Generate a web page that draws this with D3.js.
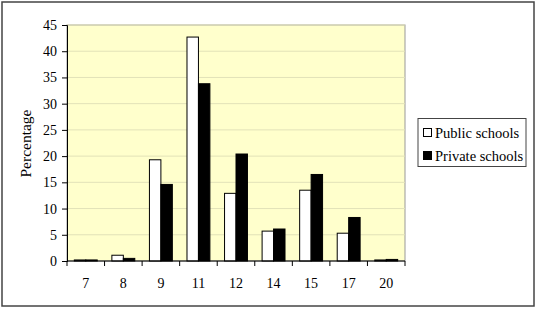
<!DOCTYPE html>
<html><head><meta charset="utf-8">
<script src="https://cdn.jsdelivr.net/npm/d3@7"></script>
<style>body{margin:0;background:#fff;}svg{display:block;}</style>
</head><body>
<svg id="c" width="538" height="311"></svg>
<script>
const categories = ["7","8","9","11","12","14","15","17","20"];
const publicSchools = [0.2, 1.1, 19.3, 42.7, 12.9, 5.7, 13.5, 5.3, 0.2];
const privateSchools = [0.2, 0.5, 14.6, 33.8, 20.4, 6.1, 16.5, 8.3, 0.3];
const seriesNames = ["Public schools", "Private schools"];
const yTicks = [0,5,10,15,20,25,30,35,40,45];

const svg = d3.select("#c");
const font = "'Liberation Serif','Times New Roman',serif";
svg.append("rect").attr("x",2).attr("y",2).attr("width",532).attr("height",304)
  .attr("fill","#fff").attr("stroke","#444").attr("stroke-width",1.5);

const L=67, R=405, T=25, B=261;
const x = d3.scaleBand().domain(categories).range([L,R]).paddingInner(0.39).paddingOuter(0.195);
const xs = d3.scaleBand().domain(seriesNames).range([0,x.bandwidth()]);
const y = d3.scaleLinear().domain([0,45]).range([B,T]);

svg.append("rect").attr("x",L).attr("y",T).attr("width",R-L).attr("height",B-T)
  .attr("fill","#FFFFCC").attr("stroke","#999").attr("stroke-width",1);

svg.append("g").selectAll("line").data(yTicks.slice(1)).join("line")
  .attr("x1",L).attr("x2",R).attr("y1",d=>y(d)).attr("y2",d=>y(d))
  .attr("stroke","#E2E2B8").attr("stroke-width",1);

const data = categories.map((c,i)=>({c, vals:[publicSchools[i], privateSchools[i]]}));
const g = svg.append("g");
data.forEach(d=>{
  d.vals.forEach((v,j)=>{
    g.append("rect").attr("x",x(d.c)+xs(seriesNames[j])).attr("y",y(v))
      .attr("width",xs.bandwidth()).attr("height",B-y(v))
      .attr("fill", j===0?"#fff":"#000").attr("stroke","#000").attr("stroke-width",1);
  });
});

const ya = d3.axisLeft(y).tickValues(yTicks).tickSize(5).tickPadding(5);
const yg = svg.append("g").attr("transform",`translate(${L},0)`).call(ya);
yg.select(".domain").attr("stroke","#000");
yg.selectAll("text").attr("font-family",font).attr("font-size",14).attr("fill","#000");

// x axis with ticks at band boundaries
const xg = svg.append("g");
xg.append("line").attr("x1",L).attr("x2",R).attr("y1",B).attr("y2",B).attr("stroke","#000");
const step = x.step();
const bounds = d3.range(categories.length+1).map(i=>L+i*step);
xg.selectAll("line.t").data(bounds).join("line").attr("class","t")
  .attr("x1",d=>d).attr("x2",d=>d).attr("y1",B).attr("y2",B+5).attr("stroke","#000");
xg.selectAll("text").data(categories).join("text")
  .attr("x",d=>x(d)+x.bandwidth()/2).attr("y",B+27)
  .attr("text-anchor","middle").attr("font-family",font).attr("font-size",14).text(d=>d);

svg.append("text").attr("transform","translate(31,143.5) rotate(-90)")
  .attr("text-anchor","middle").attr("font-family",font).attr("font-size",15.5).text("Percentage");

// legend
const lg = svg.append("g");
lg.append("rect").attr("x",418).attr("y",118.5).attr("width",108).attr("height",48)
  .attr("fill","#fff").attr("stroke","#444").attr("stroke-width",1);
seriesNames.forEach((n,i)=>{
  const cy = 132.5 + i*23;
  lg.append("rect").attr("x",423.5).attr("y",cy-4).attr("width",8).attr("height",8)
    .attr("fill", i===0?"#fff":"#000").attr("stroke","#000");
  lg.append("text").attr("x",435).attr("y",cy+5).attr("font-family",font).attr("font-size",14.5).text(n);
});
</script>
</body></html>
